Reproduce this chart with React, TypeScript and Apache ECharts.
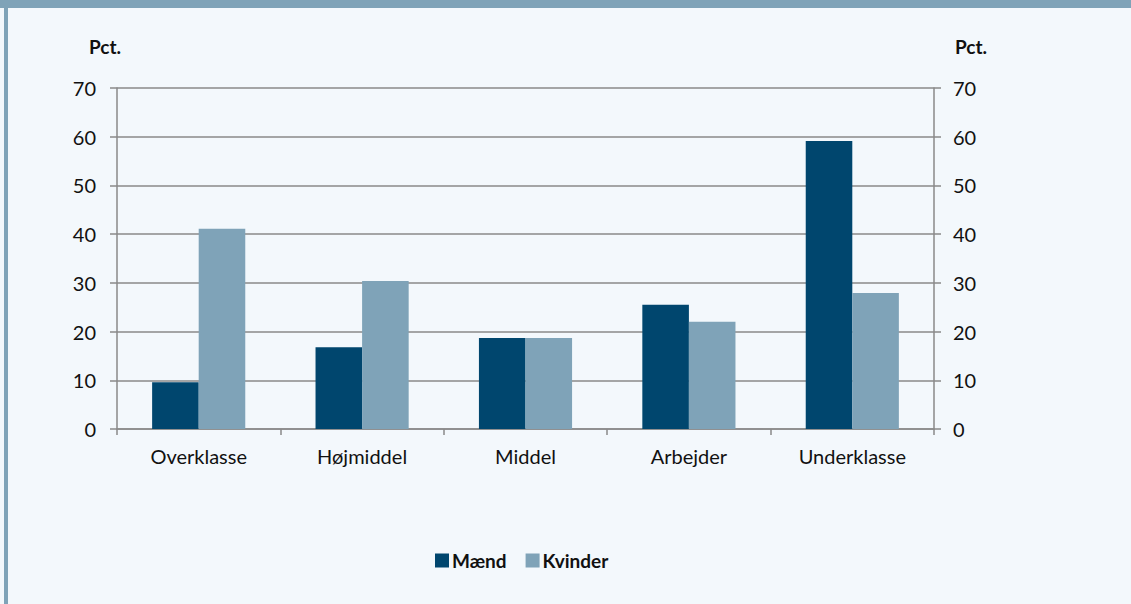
import React, { useEffect, useRef } from "react";
import * as echarts from "echarts";

const categories = ["Overklasse", "Højmiddel", "Middel", "Arbejder", "Underklasse"];
const maend = [9.6, 16.8, 18.7, 25.5, 59.1];
const kvinder = [41.1, 30.4, 18.7, 22.0, 27.9];
const seriesNames = ["Mænd", "Kvinder"];
const axisName = "Pct.";

const FONT = "Lato, 'Open Sans', sans-serif";
const GRID = "#8a8a8a";

export default function App() {
  const ref = useRef<HTMLDivElement>(null);
  useEffect(() => {
    if (!ref.current) return;
    const chart = echarts.init(ref.current, undefined, { renderer: "svg" });
    const yAxisBase = {
      type: "value" as const,
      min: 0,
      max: 70,
      interval: 10,
      axisLine: { show: true, lineStyle: { color: GRID, width: 1.5 } },
      axisTick: { show: true, length: 7, lineStyle: { color: GRID, width: 1.5 } },
      splitLine: { show: true, lineStyle: { color: GRID, width: 1.5 } },
      axisLabel: { color: "#111", fontSize: 20, fontFamily: FONT },
    };
    chart.setOption({
      animation: false,
      backgroundColor: "#f3f8fc",
      textStyle: { fontFamily: FONT },
      grid: { left: 117, right: 197, top: 88, bottom: 175 },
      graphic: [
        { type: "rect", shape: { x: 0, y: 0, width: 1131, height: 8 }, style: { fill: "#7fa3b8" } },
        { type: "rect", shape: { x: 4, y: 0, width: 4, height: 604 }, style: { fill: "#7fa3b8" } },
        { type: "text", x: 105, y: 46, style: { text: axisName, fill: "#111", font: `bold 19px ${FONT}`, align: "center", verticalAlign: "middle" } },
        { type: "text", x: 971, y: 46, style: { text: axisName, fill: "#111", font: `bold 19px ${FONT}`, align: "center", verticalAlign: "middle" } },
      ],
      legend: {
        left: 435,
        top: 551,
        padding: 0,
        itemWidth: 14,
        itemHeight: 14,
        itemGap: 19,
        icon: "rect",
        textStyle: { color: "#111", fontSize: 19, fontWeight: "bold", fontFamily: FONT, padding: [0, 0, 0, -2] },
        data: seriesNames,
      },
      xAxis: {
        type: "category",
        data: categories,
        axisLine: { show: true, lineStyle: { color: GRID, width: 1.5 } },
        axisTick: { show: true, length: 6, lineStyle: { color: GRID, width: 1.5 } },
        axisLabel: { color: "#111", fontSize: 20, fontFamily: FONT, margin: 17 },
      },
      yAxis: [
        { ...yAxisBase, position: "left", axisLabel: { ...yAxisBase.axisLabel, margin: 21 } },
        { ...yAxisBase, position: "right", splitLine: { show: false }, axisLabel: { ...yAxisBase.axisLabel, margin: 19 } },
      ],
      series: [
        { name: seriesNames[0], type: "bar", data: maend, barGap: "0%", barCategoryGap: "43%", itemStyle: { color: "#00466e" } },
        { name: seriesNames[1], type: "bar", data: kvinder, barGap: "0%", barCategoryGap: "43%", itemStyle: { color: "#7fa3b8" } },
      ],
    });
    return () => chart.dispose();
  }, []);
  return <div ref={ref} style={{ position: "absolute", left: 0, top: 0, width: 1131, height: 604 }} />;
}
